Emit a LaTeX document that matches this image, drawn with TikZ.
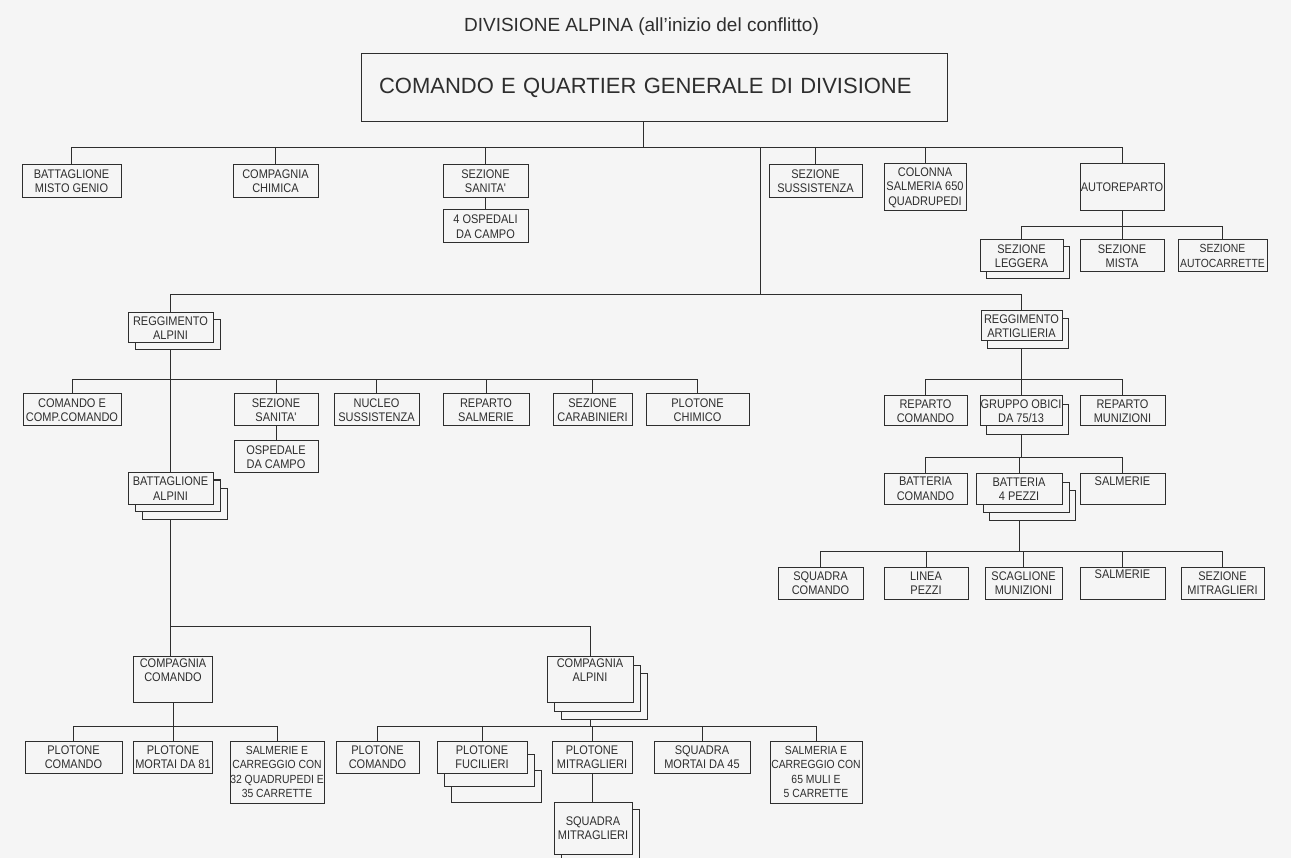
\documentclass[tikz,border=0pt]{standalone}
\usepackage{fontspec}
\setmainfont{Liberation Sans}
\newfontfamily\unitfont[FakeStretch=0.88]{Liberation Sans}
\usepackage{tikz}
\usetikzlibrary{shadows,backgrounds}
\definecolor{paper}{HTML}{F5F5F5}
\definecolor{ink}{HTML}{2E2E2E}
\tikzset{
  unit/.style={draw=ink, fill=paper, line width=1pt, text=ink, align=center, inner sep=0pt, font=\unitfont\fontsize{12.5}{14.5}\selectfont, minimum width=85pt, minimum height=32pt},
  smallprint/.style={font=\unitfont\fontsize{11.8}{14.5}\selectfont},
  hqbox/.style={draw=ink, fill=paper, line width=1pt, text=ink, align=left, text width=550pt, inner sep=0pt, font=\fontsize{22}{26}\selectfont, minimum width=586pt, minimum height=68pt},
  copyback/.style 2 args={copy shadow={shadow xshift=#1, shadow yshift=-#2, fill=paper, draw=ink, line width=1pt}},
  toptext/.style={label={[anchor=north, yshift=-3pt, inner sep=0pt, align=center, text=ink, font=\unitfont\fontsize{12.5}{14.5}\selectfont]north:#1}},
  link/.style={draw=ink, line width=1pt}
}
\begin{document}
\begin{tikzpicture}[x=1pt,y=-1pt]
  \useasboundingbox (0,0) rectangle (1291,858);
  \begin{scope}[on background layer]
    \fill[paper] (0,0) rectangle (1291,858);
  \end{scope}
  % division command
  \node[text=ink, font=\fontsize{19}{22}\selectfont] (title) at (641.5,27) {DIVISIONE ALPINA (all'inizio del conflitto)};
  \node[hqbox] (cq) at (654,88) {COMANDO E QUARTIER GENERALE DI DIVISIONE};
  % divisional units
  \node[unit, minimum width=99pt, minimum height=33pt] (bmg) at (71.5,181) {BATTAGLIONE\\MISTO GENIO};
  \node[unit, minimum height=33pt] (cch) at (275.5,181) {COMPAGNIA\\CHIMICA};
  \node[unit, minimum height=33pt] (ssan) at (485.5,181) {SEZIONE\\SANITA'};
  \node[unit, minimum height=33pt] (osp4) at (485.5,226.5) {4 OSPEDALI\\DA CAMPO};
  \node[unit, minimum width=93pt, minimum height=33pt] (ssus) at (815.5,181) {SEZIONE\\SUSSISTENZA};
  \node[unit, minimum width=82pt, minimum height=47pt] (csal) at (925,187.5) {COLONNA\\SALMERIA 650\\QUADRUPEDI};
  \node[unit, minimum width=84pt, minimum height=47pt] (aut) at (1122,187.5) {AUTOREPARTO};
  \node[unit, minimum width=83pt, copyback={6pt}{7pt}] (sleg) at (1021.5,256) {SEZIONE\\LEGGERA};
  \node[unit, minimum width=84pt] (smis) at (1122,256) {SEZIONE\\MISTA};
  \node[unit, smallprint, minimum width=89pt] (sauto) at (1222.5,256) {SEZIONE\\AUTOCARRETTE};
  % regiments
  \node[unit, minimum height=30pt, copyback={7pt}{7pt}] (ralp) at (170.5,328) {REGGIMENTO\\ALPINI};
  \node[unit, minimum width=81pt, minimum height=30pt, copyback={6pt}{8pt}] (rart) at (1021.5,326) {REGGIMENTO\\ARTIGLIERIA};
  % alpini regiment
  \node[unit, minimum width=98pt] (cccom) at (72,410) {COMANDO E\\COMP.COMANDO};
  \node[unit, minimum width=84pt] (ssan2) at (276,410) {SEZIONE\\SANITA'};
  \node[unit, minimum width=84pt] (ospc) at (276,457) {OSPEDALE\\DA CAMPO};
  \node[unit] (nsus) at (376.5,410) {NUCLEO\\SUSSISTENZA};
  \node[unit, minimum width=86pt] (rsal) at (486,410) {REPARTO\\SALMERIE};
  \node[unit, minimum width=79pt] (scar) at (592.5,410) {SEZIONE\\CARABINIERI};
  \node[unit, minimum width=103pt] (pchi) at (697.5,410) {PLOTONE\\CHIMICO};
  \node[unit, minimum height=31pt, copyback={14pt}{15pt}, copyback={7pt}{7pt}] (balp) at (170.5,488.5) {BATTAGLIONE\\ALPINI};
  % battalion
  \node[unit, minimum width=79pt, minimum height=46pt, toptext={COMPAGNIA\\COMANDO}] (ccom) at (173,679) {};
  \node[unit, minimum width=86pt, minimum height=46pt, copyback={14pt}{17pt}, copyback={7pt}{9pt}, toptext={COMPAGNIA\\ALPINI}] (calp) at (590,679) {};
  \node[unit, minimum width=97pt] (pcom1) at (73.5,757) {PLOTONE\\COMANDO};
  \node[unit, minimum width=79pt] (pmor) at (173,757) {PLOTONE\\MORTAI DA 81};
  \node[unit, smallprint, minimum width=94pt, minimum height=62pt] (salm1) at (277,772) {SALMERIE E\\CARREGGIO CON\\32 QUADRUPEDI E\\35 CARRETTE};
  \node[unit, minimum width=83pt] (pcom2) at (377.5,757) {PLOTONE\\COMANDO};
  \node[unit, minimum width=90pt, copyback={14pt}{29pt}, copyback={7pt}{13pt}] (pfuc) at (482,757) {PLOTONE\\FUCILIERI};
  \node[unit, minimum width=80pt] (pmit) at (592,757) {PLOTONE\\MITRAGLIERI};
  \node[unit, minimum width=96pt] (smor) at (702,757) {SQUADRA\\MORTAI DA 45};
  \node[unit, smallprint, minimum width=92pt, minimum height=62pt] (salm2) at (816,772) {SALMERIA E\\CARREGGIO CON\\65 MULI E\\5 CARRETTE};
  \node[unit, minimum width=78pt, minimum height=52pt, copyback={7pt}{7pt}] (smit) at (593,828) {SQUADRA\\MITRAGLIERI};
  % artillery regiment
  \node[unit, minimum width=83pt, minimum height=30pt] (rcom) at (925.5,411) {REPARTO\\COMANDO};
  \node[unit, minimum width=82pt, minimum height=30pt, copyback={6pt}{9pt}] (gobi) at (1021,411) {GRUPPO OBICI\\DA 75/13};
  \node[unit, minimum height=30pt] (rmun) at (1122.5,411) {REPARTO\\MUNIZIONI};
  \node[unit, minimum width=83pt, minimum height=30pt] (bcom) at (925.5,489) {BATTERIA\\COMANDO};
  \node[unit, minimum width=86pt, minimum height=30pt, copyback={13pt}{16pt}, copyback={7pt}{8pt}] (b4p) at (1019,489) {BATTERIA\\4 PEZZI};
  \node[unit, minimum height=30pt, toptext={SALMERIE}] (salm3) at (1122.5,489) {};
  \node[unit] (sqcom) at (820.5,583) {SQUADRA\\COMANDO};
  \node[unit, minimum width=84pt] (lpez) at (926,583) {LINEA\\PEZZI};
  \node[unit, minimum width=77pt] (sclm) at (1023.5,583) {SCAGLIONE\\MUNIZIONI};
  \node[unit, toptext={SALMERIE}] (salm4) at (1122.5,583) {};
  \node[unit, minimum width=83pt] (smitr) at (1222.5,583) {SEZIONE\\MITRAGLIERI};
  % bus lines
  \coordinate (hub) at (643,148);
  \coordinate (split) at (760,148);
  \coordinate (bRg) at (760,295);
  \coordinate (bAu) at (0,227);
  \coordinate (bAl) at (0,380);
  \coordinate (bBa) at (0,626);
  \coordinate (bCo) at (0,726);
  \coordinate (bGo) at (0,458);
  \coordinate (bBt) at (0,551);
  \begin{scope}[on background layer]
    \draw[link] (cq.south -| hub) -- (hub);
    \draw[link] (hub) -| (bmg.north);
    \draw[link] (hub) -| (cch.north);
    \draw[link] (hub) -| (ssan.north);
    \draw[link] (hub) -| (ssus.north);
    \draw[link] (hub) -| (csal.north);
    \draw[link] (hub) -| (aut.north);
    \draw[link] (ssan.south) -- (osp4.north);
    \draw[link] (aut.south) -- (aut.south |- bAu) -| (sleg.north);
    \draw[link] (aut.south |- bAu) -| (smis.north);
    \draw[link] (aut.south |- bAu) -| (sauto.north);
    \draw[link] (split) -- (bRg) -| (ralp.north);
    \draw[link] (bRg) -| (rart.north);
    % alpini
    \draw[link] (ralp.south) -- (balp.north);
    \draw[link] (ralp.south |- bAl) -| (cccom.north);
    \draw[link] (ralp.south |- bAl) -| (ssan2.north);
    \draw[link] (ralp.south |- bAl) -| (nsus.north);
    \draw[link] (ralp.south |- bAl) -| (rsal.north);
    \draw[link] (ralp.south |- bAl) -| (scar.north);
    \draw[link] (ralp.south |- bAl) -| (pchi.north);
    \draw[link] (ssan2.south) -- (ospc.north);
    \draw[link] (balp.south) -- (balp.south |- ccom.north);
    \draw[link] (balp.south |- bBa) -| (calp.north);
    \draw[link] (ccom.south) -- (ccom.south |- bCo) -| (pcom1.north);
    \draw[link] (ccom.south) -- (pmor.north);
    \draw[link] (ccom.south |- bCo) -| (salm1.north);
    \draw[link] (calp.south) -- (calp.south |- bCo) -| (pcom2.north);
    \draw[link] (calp.south |- bCo) -| (pfuc.north);
    \draw[link] (calp.south |- bCo) -| (pmit.north);
    \draw[link] (calp.south |- bCo) -| (smor.north);
    \draw[link] (calp.south |- bCo) -| (salm2.north);
    \draw[link] (pmit.south) -- (pmit.south |- smit.north);
    % artiglieria
    \draw[link] (rart.south) -- (rart.south |- bAl) -| (rcom.north);
    \draw[link] (rart.south |- bAl) -| (gobi.north);
    \draw[link] (rart.south |- bAl) -| (rmun.north);
    \draw[link] (gobi.south) -- (gobi.south |- bGo) -| (bcom.north);
    \draw[link] (gobi.south |- bGo) -| (b4p.north);
    \draw[link] (gobi.south |- bGo) -| (salm3.north);
    \draw[link] (b4p.south) -- (b4p.south |- bBt) -| (sqcom.north);
    \draw[link] (b4p.south |- bBt) -| (lpez.north);
    \draw[link] (b4p.south |- bBt) -| (sclm.north);
    \draw[link] (b4p.south |- bBt) -| (salm4.north);
    \draw[link] (b4p.south |- bBt) -| (smitr.north);
  \end{scope}
\end{tikzpicture}
\end{document}
